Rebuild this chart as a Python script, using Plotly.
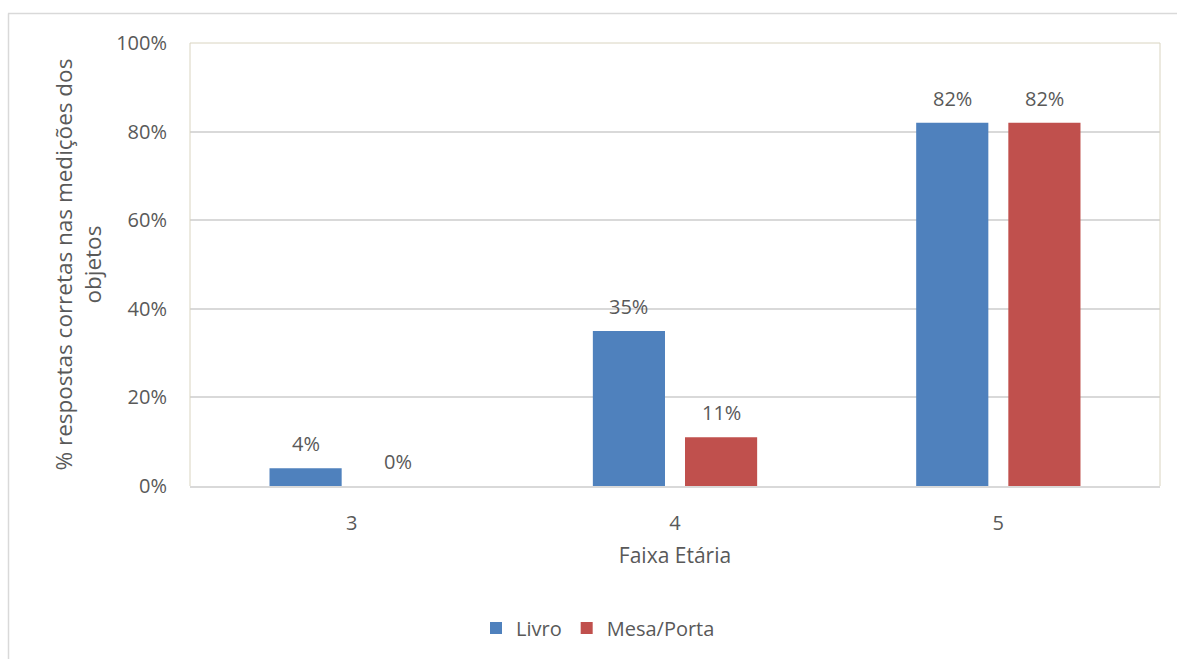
import plotly.graph_objects as go

categories = ["3", "4", "5"]
livro = [0.04, 0.35, 0.82]
mesa_porta = [0.00, 0.11, 0.82]
y_ticks = [0, 0.2, 0.4, 0.6, 0.8, 1.0]
y_tick_text = ["0%", "20%", "40%", "60%", "80%", "100%"]

BLUE = "#4F81BD"
RED = "#C0504D"
TEXT = "#595959"
FONT = "Open Sans"

W, H = 1177, 659
L, R, T, B = 190, 17, 43, 173
plot_w = W - L - R
plot_h = H - T - B
BARGAP = 0.43
GROUPGAP = 0.217

fig = go.Figure()
fig.add_trace(go.Bar(name="Livro", x=categories, y=livro, marker_color=BLUE,
                     marker_line_width=0))
fig.add_trace(go.Bar(name="Mesa/Porta", x=categories, y=mesa_porta, marker_color=RED,
                     marker_line_width=0))

# value labels above each bar, shifted to the bar's slot within its group
slot = plot_w / len(categories) * (1 - BARGAP) / 2
for vals, sign in ((livro, -1), (mesa_porta, 1)):
    for i, v in enumerate(vals):
        fig.add_annotation(x=i, y=v, text=f"{round(v * 100):.0f}%", showarrow=False,
                           xshift=sign * slot / 2, yanchor="bottom", yshift=9,
                           font=dict(family=FONT, size=20, color=TEXT))

# y-axis title
fig.add_annotation(xref="paper", yref="paper", x=(77 - L) / plot_w, y=0.5,
                   text="% respostas corretas nas medições dos<br>objetos",
                   textangle=-90, showarrow=False, xanchor="center", yanchor="middle",
                   font=dict(family=FONT, size=22.5, color=TEXT))

# plot-area frame (left, top, right)
frame = "#D9D4C0"
fig.add_shape(type="line", xref="paper", yref="paper", x0=0, x1=0, y0=0, y1=1,
              line=dict(color=frame, width=1))
fig.add_shape(type="line", xref="paper", yref="paper", x0=0, x1=1, y0=1, y1=1,
              line=dict(color=frame, width=1))
fig.add_shape(type="line", xref="paper", yref="paper", x0=1, x1=1, y0=0, y1=1,
              line=dict(color=frame, width=1))

# chart outer border
outer = "#D9D9D9"
fig.add_shape(type="line", xref="paper", yref="paper",
              x0=(8 - L) / plot_w, x1=(W - L) / plot_w,
              y0=(H - B - 13.5) / plot_h, y1=(H - B - 13.5) / plot_h,
              line=dict(color=outer, width=1.5))
fig.add_shape(type="line", xref="paper", yref="paper",
              x0=(8.5 - L) / plot_w, x1=(8.5 - L) / plot_w,
              y0=(H - B - 13.5) / plot_h, y1=(H - B - H) / plot_h,
              line=dict(color=outer, width=1.5))

fig.update_layout(
    width=W, height=H,
    margin=dict(l=L, r=R, t=T, b=B),
    paper_bgcolor="white", plot_bgcolor="white",
    barmode="group", bargap=BARGAP, bargroupgap=GROUPGAP,
    font=dict(family=FONT, size=20, color=TEXT),
    showlegend=True,
    legend=dict(orientation="h", x=(598 - L) / plot_w, xanchor="center",
                y=(H - B - 628) / plot_h, yanchor="middle",
                font=dict(family=FONT, size=20, color=TEXT),
                itemwidth=30, tracegroupgap=0),
    xaxis=dict(type="category", range=[-0.5, 2.5],
               showgrid=False, showline=True, linecolor="#D9D9D9", linewidth=1.5,
               ticks="", ticklabelstandoff=18,
               tickfont=dict(family=FONT, size=20, color=TEXT),
               title=dict(text="Faixa Etária", standoff=14,
                          font=dict(family=FONT, size=21, color=TEXT))),
    yaxis=dict(range=[0, 1], tickvals=y_ticks, ticktext=y_tick_text,
               showgrid=True, gridcolor="#D9D9D9", gridwidth=1.5,
               zeroline=False, showline=False, ticks="", ticklabelstandoff=22,
               tickfont=dict(family=FONT, size=20, color=TEXT)),
)

fig.write_html("out.html")
